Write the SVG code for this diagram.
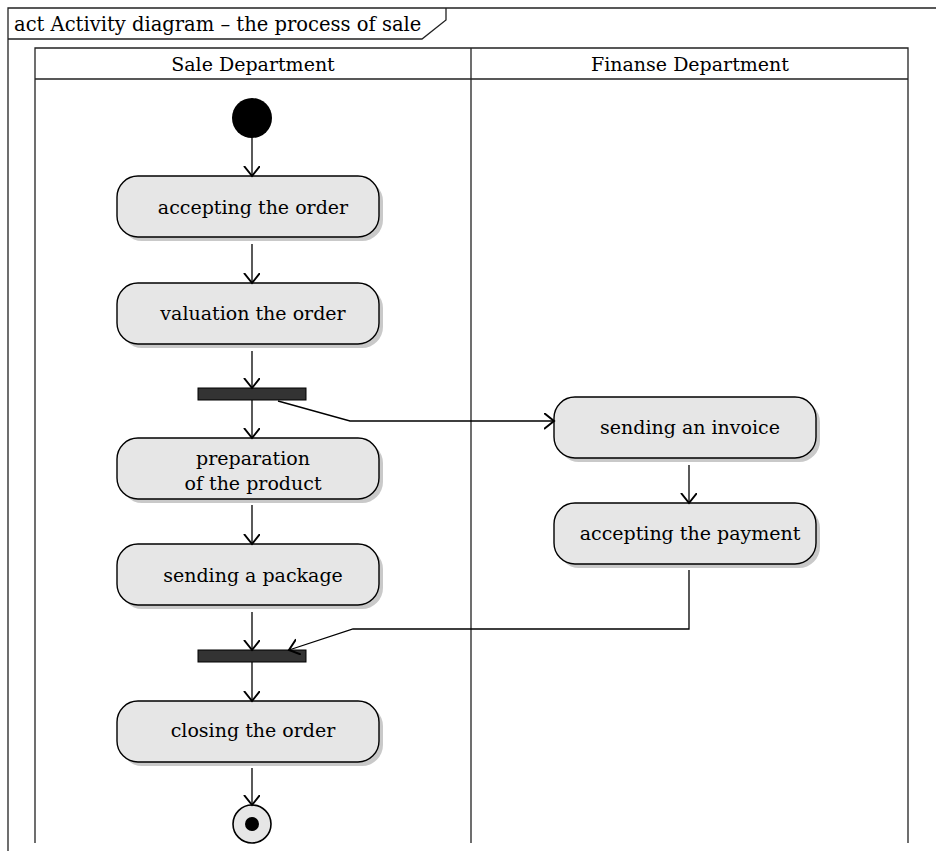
<svg xmlns="http://www.w3.org/2000/svg" width="936" height="851" viewBox="0 0 936 851">
<style>
text{font-family:"DejaVu Serif","Liberation Serif",serif;font-size:19px;fill:#000;text-anchor:middle}
.frame{fill:none;stroke:#222;stroke-width:1.3}
.act{fill:#e6e6e6;stroke:#000;stroke-width:1.4}
.sh{fill:#c9c9c9}
.bar{fill:#333;stroke:#000;stroke-width:1}
.c{fill:none;stroke:#000;stroke-width:1.3}
</style>
<defs>
<marker id="ah" markerWidth="20" markerHeight="20" refX="10" refY="8" orient="auto" markerUnits="userSpaceOnUse" viewBox="0 0 20 20">
<path d="M0,0 L10,8 L0,16" fill="none" stroke="#000" stroke-width="2"/>
</marker>
</defs>
<rect width="936" height="851" fill="#fff"/>
<g id="frame">
<path class="frame" d="M8,851 V8 H936"/>
<path class="frame" d="M8,39 H422 L446,20 V8"/>
<text x="14" y="31" style="text-anchor:start;font-size:19.5px">act Activity diagram – the process of sale</text>
</g>
<g id="lanes">
<path class="frame" d="M35,843 V48 H908 V843 M35,79 H908 M471,48 V843" stroke-width="1.5"/>
<text x="253" y="71">Sale Department</text>
<text x="690" y="71">Finanse Department</text>
</g>
<g id="start"><circle cx="252" cy="118" r="20" fill="#000"/></g>
<g id="n1"><rect class="sh" x="121" y="180" width="262" height="61" rx="21"/><rect class="act" x="117" y="176" width="262" height="61" rx="21"/><text x="253" y="214">accepting the order</text></g>
<g id="n2"><rect class="sh" x="121" y="287" width="262" height="61" rx="21"/><rect class="act" x="117" y="283" width="262" height="61" rx="21"/><text x="253" y="320">valuation the order</text></g>
<g id="fork"><rect class="bar" x="198" y="388" width="108" height="12"/></g>
<g id="n3"><rect class="sh" x="121" y="442" width="262" height="61" rx="21"/><rect class="act" x="117" y="438" width="262" height="61" rx="21"/><text x="253" y="465">preparation</text><text x="253" y="490">of the product</text></g>
<g id="n4"><rect class="sh" x="121" y="548" width="262" height="61" rx="21"/><rect class="act" x="117" y="544" width="262" height="61" rx="21"/><text x="253" y="582">sending a package</text></g>
<g id="join"><rect class="bar" x="198" y="650" width="108" height="12"/></g>
<g id="n5"><rect class="sh" x="121" y="705" width="262" height="61" rx="21"/><rect class="act" x="117" y="701" width="262" height="61" rx="21"/><text x="253" y="737">closing the order</text></g>
<g id="end"><circle cx="252" cy="824" r="19" fill="#e6e6e6" stroke="#000" stroke-width="1.6"/><circle cx="252" cy="824" r="7" fill="#000"/></g>
<g id="n6"><rect class="sh" x="558" y="401" width="262" height="61" rx="21"/><rect class="act" x="554" y="397" width="262" height="61" rx="21"/><text x="690" y="434">sending an invoice</text></g>
<g id="n7"><rect class="sh" x="558" y="507" width="262" height="61" rx="21"/><rect class="act" x="554" y="503" width="262" height="61" rx="21"/><text x="690" y="540">accepting the payment</text></g>
<g id="connectors">
<path class="c" marker-end="url(#ah)" d="M252,138 V176"/>
<path class="c" marker-end="url(#ah)" d="M252,244 V283"/>
<path class="c" marker-end="url(#ah)" d="M252,351 V388"/>
<path class="c" marker-end="url(#ah)" d="M252,400 V438"/>
<path class="c" marker-end="url(#ah)" d="M278,401 L350,421 H554"/>
<path class="c" marker-end="url(#ah)" d="M252,505 V544"/>
<path class="c" marker-end="url(#ah)" d="M252,612 V650"/>
<path class="c" marker-end="url(#ah)" d="M689,570 V629 H353 L289,650"/>
<path class="c" marker-end="url(#ah)" d="M252,662 V701"/>
<path class="c" marker-end="url(#ah)" d="M252,768 V805"/>
<path class="c" marker-end="url(#ah)" d="M689,465 V503"/>
</g>
</svg>
